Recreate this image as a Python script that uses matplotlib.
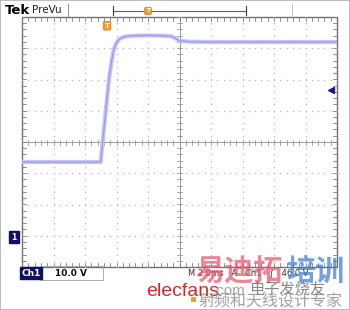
import numpy as np
import matplotlib
matplotlib.use("Agg")
import matplotlib.pyplot as plt
from matplotlib.patches import Rectangle

# trace in divisions (10 x 8 graticule)
trace_t = [-5.0, -2.50, -2.47, -2.35, -2.24, -2.15, -2.08, -2.00, -1.90, -1.75, -1.50,
           -1.00, -0.50, -0.25, -0.10, 0.00, 0.30, 1.00, 2.00, 3.00, 4.00, 5.00]
trace_v = [-0.64, -0.64, -0.30, 0.90, 2.00, 2.62, 2.98, 3.18, 3.30, 3.37, 3.40,
           3.41, 3.40, 3.38, 3.30, 3.24, 3.21, 3.20, 3.20, 3.20, 3.20, 3.20]

trig_pos = -2.3      # trigger marker (div)
trig_level = 1.65    # right-hand level arrow (div)

header_left = "Tek"
header_right = "PreVu"
ch_label = "Ch1"
ch_scale = "10.0 V"
time_info = "M 2.0ms   A   Ch1   \u222b   46.0 V"

plt.rcParams['font.family'] = ['DejaVu Sans']
cjk = ['Noto Sans CJK SC', 'DejaVu Sans']

fig = plt.figure(figsize=(3.5, 3.1), dpi=100)
fig.patch.set_facecolor('white')

ax = fig.add_axes([22 / 350, 1 - 267 / 310, 315 / 350, 250 / 310])
ax.set_xlim(-5, 5)
ax.set_ylim(-4, 4)
ax.set_axis_off()

grid_col = '#b4b4b4'
# dotted graticule
dots = np.arange(-5, 5.01, 0.2)
for gy in range(-3, 4):
    if gy == 0:
        continue
    ax.plot(dots, np.full_like(dots, gy), ls='none', marker='o', ms=1.0, color=grid_col, mew=0)
vdots = np.arange(-4, 4.01, 0.2)
for gx in range(-4, 5):
    if gx == 0:
        continue
    ax.plot(np.full_like(vdots, gx), vdots, ls='none', marker='o', ms=1.0, color=grid_col, mew=0)

# centre crosshair with minor ticks
ax.axhline(0, color='#9a9a9a', lw=0.7)
ax.axvline(0, color='#9a9a9a', lw=0.7)
for t in dots:
    ax.plot([t, t], [-0.08, 0.08], color='#9a9a9a', lw=0.6)
    ax.plot([t, t], [4, 3.88], color='#808080', lw=0.6)
    ax.plot([t, t], [-4, -3.88], color='#808080', lw=0.6)
for t in vdots:
    ax.plot([-0.08, 0.08], [t, t], color='#9a9a9a', lw=0.6)
    ax.plot([-5, -4.88], [t, t], color='#808080', lw=0.6)
    ax.plot([5, 4.88], [t, t], color='#808080', lw=0.6)
ax.add_patch(Rectangle((-5, -4), 10, 8, fill=False, ec='#707070', lw=1.0, clip_on=False))

# trace
ax.plot(trace_t, trace_v, color='#c4c4f6', lw=3.0, solid_joinstyle='round')
ax.plot(trace_t, trace_v, color='#9c9cee', lw=0.9)

# markers
ax.text(trig_pos, 3.72, 'T', color='white', fontsize=5, weight='bold', ha='center', va='center',
        bbox=dict(boxstyle='round,pad=0.2', fc='#f0a030', ec='#d08020', lw=0.5))
ax.plot(4.82, trig_level, marker='<', color='#1a1a80', ms=4.5)
fig.text(14 / 350, 1 - 237 / 310, '1', color='white', fontsize=5.5, weight='bold', ha='center', va='center',
         bbox=dict(boxstyle='square,pad=0.25', fc='#101060', ec='#101060'))

# header
fig.text(5 / 350, 1 - 11 / 310, header_left, fontsize=9.5, weight='bold', color='black', va='center')
fig.text(32 / 350, 1 - 10 / 310, header_right, fontsize=7.5, color='#202020', va='center')
fig.add_artist(plt.Line2D([68 / 350, 68 / 350], [1 - 4 / 310, 1 - 16 / 310], color='#909090', lw=0.7))
fig.add_artist(plt.Line2D([292 / 350, 292 / 350], [1 - 4 / 310, 1 - 16 / 310], color='#c0c0c0', lw=0.7))
fig.add_artist(plt.Line2D([113 / 350, 246 / 350], [1 - 11 / 310, 1 - 11 / 310], color='#606060', lw=0.8))
for bx in (113, 246):
    fig.add_artist(plt.Line2D([bx / 350, bx / 350], [1 - 6 / 310, 1 - 15 / 310], color='#404040', lw=0.8))
fig.text(148 / 350, 1 - 11 / 310, 'T', color='white', fontsize=4.5, weight='bold', ha='center', va='center',
         bbox=dict(boxstyle='round,pad=0.2', fc='#f0a030', ec='#d08020', lw=0.5))

# bottom readout
fig.text(31 / 350, 1 - 273 / 310, ch_label, color='white', fontsize=6.5, weight='bold', ha='center', va='center',
         bbox=dict(boxstyle='square,pad=0.12', fc='#101060', ec='#101060'))
fig.add_artist(Rectangle((40 / 350, 1 - 280 / 310), 63 / 350, 14 / 310, fill=False, ec='#a0a0a0', lw=0.6))
fig.text(55 / 350, 1 - 273 / 310, ch_scale, color='#101010', fontsize=6.5, weight='bold', va='center')
fig.text(188 / 350, 1 - 273 / 310, time_info, color='#303030', fontsize=6, va='center')

# watermarks (they sit over the readout in the source image)
fig.text(195 / 350, 1 - 271 / 310, '易迪拓', family=cjk, fontsize=21, weight='bold', color='#e8506a', alpha=0.7, va='center')
fig.text(286 / 350, 1 - 271 / 310, '培训', family=cjk, fontsize=21, weight='bold', color='#3a78d0', alpha=0.7, va='center')
fig.text(146 / 350, 1 - 291 / 310, 'elecfans', fontsize=14, color='#d82828', va='center', family=['Liberation Sans'])
fig.text(213 / 350, 1 - 291 / 310, '.com', fontsize=11, color='#909090', alpha=0.8, va='center', family=['Liberation Sans'])
fig.text(249 / 350, 1 - 289 / 310, '电子发烧友', family=cjk, fontsize=11, style='italic', color='#606060', alpha=0.75, va='center')
fig.add_artist(Rectangle((191 / 350, 1 - 302 / 310), 5 / 350, 5 / 310, fc='#f0a030', ec='none'))
fig.text(198 / 350, 1 - 302 / 310, '射频和天线设计专家', family=cjk, fontsize=11.5, color='#8a8a8a', alpha=0.8, va='center')

fig.add_artist(Rectangle((0, 0), 1, 1, fill=False, ec='#b0b0b0', lw=1.2, transform=fig.transFigure))

fig.savefig('out.png', dpi=100, facecolor='white')
